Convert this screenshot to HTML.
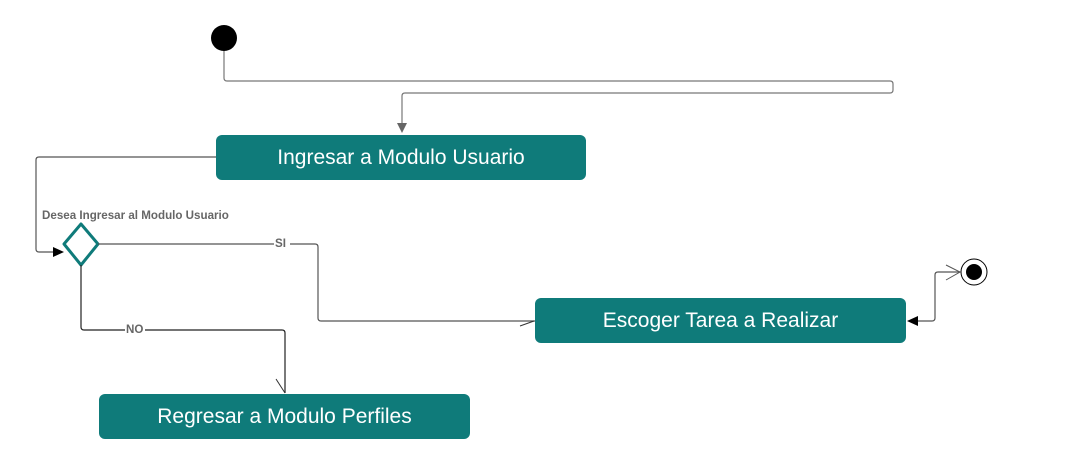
<!DOCTYPE html>
<html><head><style>
body{margin:0;background:#fff;width:1066px;height:466px;overflow:hidden;font-family:"Liberation Sans",sans-serif}
.b{position:absolute;background:#0f7b7a;color:#fff;border-radius:6px;font-size:21px;display:flex;align-items:center;justify-content:center}
</style></head><body>
<div class="b" style="left:216px;top:135px;width:370px;height:45px">Ingresar a Modulo Usuario</div>
<div class="b" style="left:535px;top:298px;width:371px;height:45px">Escoger Tarea a Realizar</div>
<div class="b" style="left:99px;top:394px;width:371px;height:45px">Regresar a Modulo Perfiles</div>
<svg width="1066" height="466" style="position:absolute;left:0;top:0" font-family="Liberation Sans" font-weight="bold" font-size="11.6">
<circle cx="224" cy="38" r="13" fill="#000"/>
<path d="M224 51V78q0 3 3 3H890q3 0 3 3v6q0 3-3 3H405q-3 0-3 3v28" fill="none" stroke="#777" stroke-width="1.2"/>
<polygon points="397,123 407,123 402,133" fill="#666"/>
<path d="M216 157H39q-3 0-3 3v89q0 3 3 3h14" fill="none" stroke="#555" stroke-width="1.2"/>
<polygon points="53,247 64,252 53,257" fill="#000"/>
<text x="42" y="219" fill="#666">Desea Ingresar al Modulo Usuario</text>
<path d="M81 224L98 244L81 265L64 244Z" fill="#fff" stroke="#0f7b7a" stroke-width="3" stroke-linejoin="round"/>
<path d="M98 244H315q3 0 3 3v71q0 3 3 3H535" fill="none" stroke="#555" stroke-width="1.2"/>
<rect x="274" y="237" width="16" height="12" fill="#fff"/>
<text x="275" y="247" fill="#666">SI</text>
<path d="M520 326L534 321" fill="none" stroke="#333"/>
<path d="M81 265V327q0 3 3 3H282q3 0 3 3v60" fill="none" stroke="#222" stroke-width="1.2"/>
<rect x="125" y="323" width="20" height="12" fill="#fff"/>
<text x="126" y="333" fill="#666">NO</text>
<path d="M276 379L285 393" stroke="#333"/>
<circle cx="974" cy="272" r="13" fill="#fff" stroke="#000"/>
<circle cx="974" cy="272" r="8" fill="#000"/>
<path d="M960 272H938q-3 0-3 3v43q0 3-3 3h-14" fill="none" stroke="#555" stroke-width="1.2"/>
<path d="M946 265L960 272L946 280" fill="none" stroke="#555"/>
<polygon points="918,316 907,321 918,326" fill="#000"/>
</svg>
</body></html>
